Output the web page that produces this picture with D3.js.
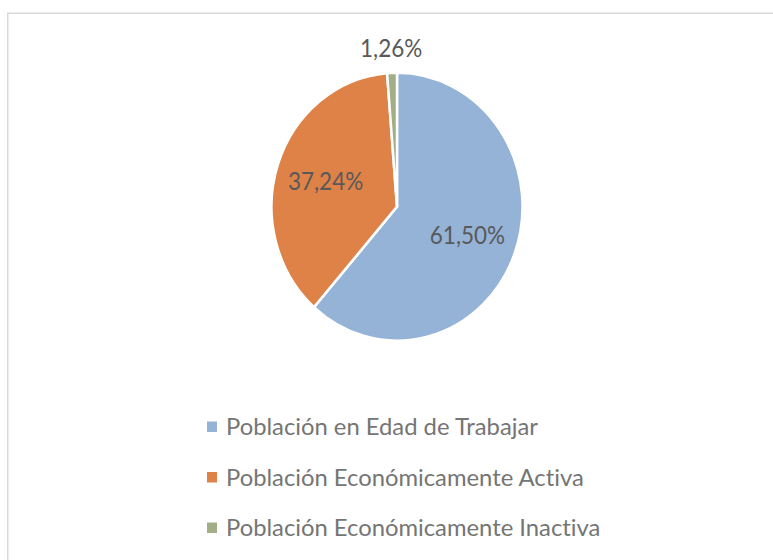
<!DOCTYPE html>
<html>
<head>
<meta charset="utf-8">
<script src="https://cdn.jsdelivr.net/npm/d3@7"></script>
<style>
  html, body { margin: 0; padding: 0; background: #ffffff; }
  svg { display: block; }
  text { font-family: Lato, "Open Sans", sans-serif; font-variant-ligatures: none; font-feature-settings: "liga" 0; }
</style>
</head>
<body>
<svg id="chart" width="773" height="560"></svg>
<script>
// Distribución de la población
const categories = [
  "Población en Edad de Trabajar",
  "Población Económicamente Activa",
  "Población Económicamente Inactiva"
];
const values = [61.50, 37.24, 1.26];
const valueLabels = ["61,50%", "37,24%", "1,26%"];
const colors = ["#95B3D6", "#DF8247", "#A2AF86"];

const width = 773, height = 560;
const svg = d3.select("#chart");

// Chart frame (runs off the right and bottom edges)
svg.append("rect")
  .attr("x", 7.75).attr("y", 13.25)
  .attr("width", 820).attr("height", 620)
  .attr("fill", "none")
  .attr("stroke", "#d9d9d9")
  .attr("stroke-width", 1.5);

// Pie geometry
const cx = 397, cy = 206.7, radius = 125.5, yStretch = 1.068;
const labelStretch = 1.1;

const pie = d3.pie().sort(null).value(d => d);
const arcs = pie(values);
const arc = d3.arc().innerRadius(0).outerRadius(radius);
const labelArc = d3.arc().innerRadius(radius * 0.6).outerRadius(radius * 0.6);
const outerLabelArc = d3.arc().innerRadius(radius + 23).outerRadius(radius + 23);

const pieG = svg.append("g")
  .attr("transform", `translate(${cx},${cy}) scale(1,${yStretch})`);

pieG.selectAll("path")
  .data(arcs)
  .join("path")
  .attr("d", arc)
  .attr("fill", (d, i) => colors[i])
  .attr("stroke", "#ffffff")
  .attr("stroke-width", 2.5)
  .attr("stroke-linejoin", "round");

// Data labels: large slices inside, the thin slice above the pie
const labelG = svg.append("g");
labelG.selectAll("text")
  .data(arcs)
  .join("text")
  .attr("transform", (d, i) => {
    const c = (d.data < 5 ? outerLabelArc : labelArc).centroid(d);
    const x = cx + c[0];
    const y = cy + c[1] * yStretch + 9;
    return `translate(${x},${y}) scale(1,${labelStretch})`;
  })
  .attr("text-anchor", "middle")
  .attr("font-size", 22.5)
  .attr("fill", "#595959")
  .text((d, i) => valueLabels[i]);

// Legend
const legendX = 207, legendTextX = 226, legendTop = 435, legendStep = 50.5;
const legend = svg.append("g");
const items = legend.selectAll("g")
  .data(categories)
  .join("g")
  .attr("transform", (d, i) => `translate(0,${legendTop + i * legendStep})`);

items.append("rect")
  .attr("x", legendX)
  .attr("y", -13.5)
  .attr("width", 10)
  .attr("height", 10.5)
  .attr("fill", (d, i) => colors[i]);

items.append("text")
  .attr("x", legendTextX)
  .attr("y", 0)
  .attr("font-size", 23.8)
  .attr("fill", "#757575")
  .text(d => d);
</script>
</body>
</html>
